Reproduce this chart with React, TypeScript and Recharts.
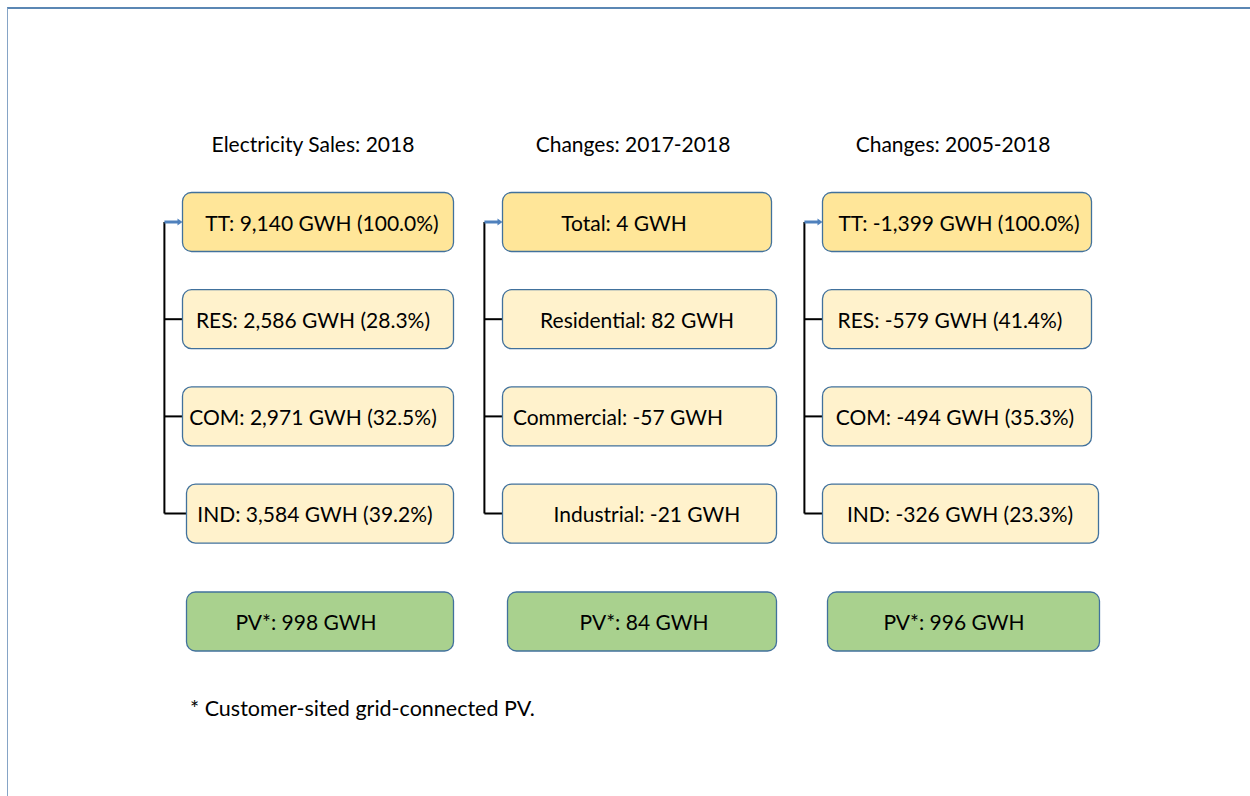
import React from 'react';
import { ComposedChart, Scatter, XAxis, YAxis, ReferenceLine } from 'recharts';

// ---- data ----
const columnTitles = ['Electricity Sales: 2018', 'Changes: 2017-2018', 'Changes: 2005-2018'];
const sectorShort = ['TT', 'RES', 'COM', 'IND'];
const sectorLong = ['Total', 'Residential', 'Commercial', 'Industrial'];
const sales2018 = [9140, 2586, 2971, 3584];
const share2018 = [100.0, 28.3, 32.5, 39.2];
const change2017to2018 = [4, 82, -57, -21];
const change2005to2018 = [-1399, -579, -494, -326];
const share2005to2018 = [100.0, 41.4, 35.3, 23.3];
const pvValues = [998, 84, 996];
const footnote = '* Customer-sited grid-connected PV.';

// ---- layout (slots on the chart's own axes) ----
const ROW_TITLE = -0.81;
const ROW_PV = 4.11;
const ROW_NOTE = 5.0;
const CONNECTOR_X = -0.48;

const FONT = 'Lato, "Open Sans", sans-serif';
const BOX_W = 271;
const BOX_H = 59;
const fmt = (v: number) => v.toLocaleString('en-US');

// per-box styling nudges: [left edge shift, right edge shift, text shift] in px, indexed [col][row]
const BOX_NUDGE: number[][][] = [
  [[0, 0, 4], [0, 0, -5], [0, 0, -5], [4, 0, -3], [4, 0, -12]],
  [[0, -2, -14], [0, 3, -1], [0, 3, -20], [0, 3, 9], [5, 3, 6]],
  [[0, -2, 1], [0, -2, -8], [0, -2, -3], [0, 5, 2], [5, 6, -4]],
];

type Box = { col: number; row: number; idx: number; label: string; kind: 'total' | 'sector' | 'pv' };

const boxes: Box[] = [];
sectorShort.forEach((s, i) => {
  boxes.push({ col: 0, row: i, idx: i, label: `${s}: ${fmt(sales2018[i])} GWH (${share2018[i].toFixed(1)}%)`, kind: i === 0 ? 'total' : 'sector' });
});
sectorLong.forEach((s, i) => {
  boxes.push({ col: 1, row: i, idx: i, label: `${s}: ${fmt(change2017to2018[i])} GWH`, kind: i === 0 ? 'total' : 'sector' });
});
sectorShort.forEach((s, i) => {
  boxes.push({ col: 2, row: i, idx: i, label: `${s}: ${fmt(change2005to2018[i])} GWH (${share2005to2018[i].toFixed(1)}%)`, kind: i === 0 ? 'total' : 'sector' });
});
pvValues.forEach((v, c) => {
  boxes.push({ col: c, row: ROW_PV, idx: 4, label: `PV*: ${fmt(v)} GWH`, kind: 'pv' });
});

const titles = columnTitles.map((t, c) => ({ col: c, row: ROW_TITLE, label: t }));
const notes = [{ col: 0, row: ROW_NOTE, label: footnote }];

const FILL: Record<string, string> = { total: '#FFE699', sector: '#FFF2CC', pv: '#A9D18E' };

const BoxShape = (props: any) => {
  const { cx, cy, payload } = props;
  if (cx == null || cy == null) return null;
  const [dl, dr, dt] = BOX_NUDGE[payload.col][payload.idx];
  const left = cx - BOX_W / 2 + dl;
  const right = cx + BOX_W / 2 + dr;
  const connX = cx - 153.6;
  return (
    <g>
      {payload.kind === 'sector' && (
        <line x1={connX} y1={cy} x2={left} y2={cy} stroke="#000" strokeWidth={2} />
      )}
      {payload.kind === 'total' && (
        <g>
          <line x1={connX} y1={cy} x2={left - 4} y2={cy} stroke="#4F81BD" strokeWidth={3} />
          <path d={`M${left - 5},${cy - 3.5} L${left},${cy} L${left - 5},${cy + 3.5} Z`} fill="#4F81BD" />
        </g>
      )}
      <rect x={left} y={cy - BOX_H / 2} width={right - left} height={BOX_H} rx={9} ry={9}
        fill={FILL[payload.kind]} stroke="#41719C" strokeWidth={1.3} />
      <text x={cx + dt} y={cy} textAnchor="middle" dominantBaseline="central"
        fontFamily={FONT} fontSize={21} fill="#000">{payload.label}</text>
    </g>
  );
};

const TitleShape = (props: any) => {
  const { cx, cy, payload } = props;
  if (cx == null || cy == null) return null;
  return (
    <text x={cx - 5} y={cy} textAnchor="middle" dominantBaseline="central"
      fontFamily={FONT} fontSize={21} fill="#000">{payload.label}</text>
  );
};

const NoteShape = (props: any) => {
  const { cx, cy, payload } = props;
  if (cx == null || cy == null) return null;
  return (
    <text x={cx - 128} y={cy} textAnchor="start" dominantBaseline="central"
      fontFamily={FONT} fontSize={21.5} fill="#000">{payload.label}</text>
  );
};

export default function App() {
  return (
    <div style={{ position: 'absolute', left: 0, top: 0, width: 1250, height: 796, background: '#fff', overflow: 'hidden' }}>
      <div style={{ position: 'absolute', left: 7, top: 7, right: 0, bottom: -4, borderTop: '2px solid #5B87B4', borderLeft: '1.5px solid #86A4C6' }} />
      <div style={{ position: 'absolute', left: 0, top: 0 }}>
        <ComposedChart width={1250} height={796} margin={{ top: 27.6, bottom: 39.4, left: 158, right: 132 }}>
          <XAxis type="number" dataKey="col" domain={[-0.5, 2.5]} hide allowDataOverflow />
          <YAxis type="number" dataKey="row" domain={[-2, 5.5]} reversed hide allowDataOverflow />
          {columnTitles.map((_, c) => (
            <ReferenceLine key={c} segment={[{ x: c + CONNECTOR_X, y: 0 }, { x: c + CONNECTOR_X, y: 3 }]}
              stroke="#000" strokeWidth={2} ifOverflow="visible" />
          ))}
          <Scatter data={boxes} shape={BoxShape} isAnimationActive={false} />
          <Scatter data={titles} shape={TitleShape} isAnimationActive={false} />
          <Scatter data={notes} shape={NoteShape} isAnimationActive={false} />
        </ComposedChart>
      </div>
    </div>
  );
}
